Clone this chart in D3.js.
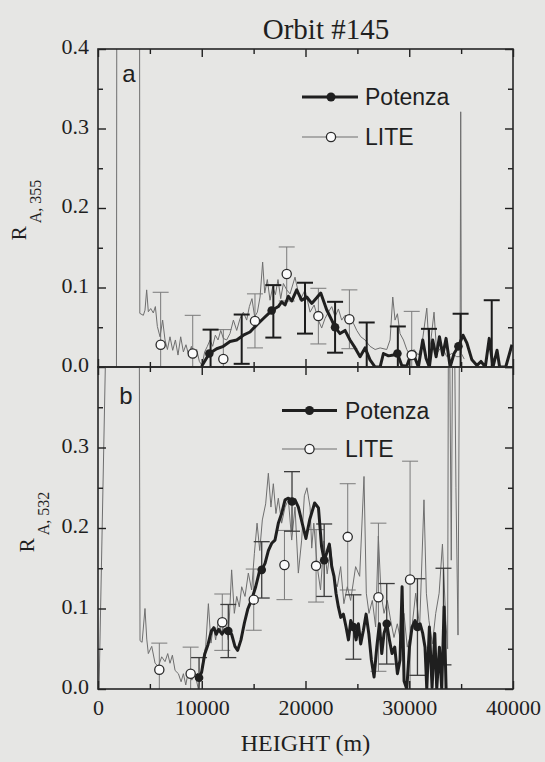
<!DOCTYPE html>
<html><head><meta charset="utf-8">
<script src="https://cdn.jsdelivr.net/npm/d3@7"></script>
<style>html,body{margin:0;padding:0;background:#e6e6e4;} svg{display:block}</style>
</head><body><svg id="chart" width="545" height="762"></svg>
<script>
// ---------------- DATA ----------------
const titleText = "Orbit #145";
const xLabelText = "HEIGHT (m)";
const heightTicks = [0, 10000, 20000, 30000, 40000];
const heightMinorTicks = [5000, 15000, 25000, 35000];
const ratioTicksA = [0, 0.1, 0.2, 0.3, 0.4];
const ratioTicksB = [0, 0.1, 0.2, 0.3];
const ratioMinorTicks = [0.05, 0.15, 0.25, 0.35];
const legendLabels = ["Potenza", "LITE"];

// Panel a : 355 nm  [height (m), R_A]
const lite355Profile = [[1780,0.0],[1820,0.6],[4000,0.6],[4030,0.0675],[4370,0.065],[4530,0.0715],[4690,0.097],[4850,0.0695],[5080,0.0735],[5330,0.068],[5530,0.076],[5720,0.051],[5980,0.038],[6230,0.059],[6460,0.034],[6690,0.022],[6940,0.038],[7200,0.021],[7460,0.034],[7710,0.015],[7970,0.038],[8230,0.019],[8480,0.028],[8740,0.015],[9000,0.026],[9250,0.011],[9510,0.022],[9770,0.007],[10030,0.002],[10280,0.019],[10540,0.026],[10800,0.034],[11050,0.026],[11310,0.040],[11570,0.034],[11830,0.046],[12080,0.036],[12400,0.034],[12720,0.042],[13050,0.059],[13370,0.046],[13690,0.061],[14010,0.069],[14330,0.059],[14590,0.076],[14840,0.086],[15100,0.063],[15360,0.069],[15620,0.088],[15870,0.132],[16070,0.093],[16320,0.110],[16580,0.084],[16840,0.101],[17100,0.091],[17350,0.110],[17610,0.086],[17870,0.105],[18190,0.097],[18510,0.092],[18990,0.113],[19470,0.084],[19960,0.097],[20440,0.069],[20830,0.078],[21240,0.059],[21560,0.049],[21880,0.061],[22200,0.069],[22530,0.076],[22850,0.063],[23170,0.073],[23490,0.059],[23810,0.065],[24230,0.063],[24620,0.055],[24940,0.046],[25330,0.038],[25740,0.034],[26220,0.026],[26710,0.022],[27190,0.024],[27830,0.022],[28150,0.034],[28410,0.088],[28630,0.059],[28860,0.067],[29110,0.042],[29440,0.034],[29760,0.022],[30080,0.015],[30460,0.022],[30880,0.015],[31200,0.026],[31690,0.074],[31940,0.017],[32390,0.069],[32650,0.017],[33130,0.026],[33620,0.013],[34100,0.017],[34570,0.013],[34900,0.013],[34960,0.321],[35020,0.017],[35300,0.010]];
const potenza355Profile = [[9990,0.001],[10730,0.017],[11440,0.023],[12080,0.026],[12720,0.032],[13370,0.034],[14010,0.040],[14650,0.044],[15300,0.053],[15940,0.061],[16740,0.071],[17380,0.076],[17700,0.082],[18030,0.078],[18350,0.089],[18670,0.083],[19150,0.097],[19640,0.084],[20120,0.088],[20600,0.080],[21080,0.087],[21470,0.093],[22040,0.072],[22530,0.059],[22850,0.050],[23330,0.042],[23810,0.046],[24290,0.034],[24780,0.024],[25260,0.013],[25740,0.024],[26220,0.009],[26710,0.0],[27190,0.0],[27510,0.017],[28000,0.014],[28480,0.015],[28860,0.017],[29280,0.002],[29760,0.001],[30140,0.015],[30560,0.011],[30880,0.0],[31300,0.034],[31620,0.011],[31940,0.0],[32260,0.034],[32590,0.013],[32910,0.038],[33230,0.015],[33550,0.036],[33940,0.0],[34320,0.017],[34740,0.026],[35180,0.040],[35560,0.030],[36040,0.009],[36530,0.002],[36910,0.007],[37330,0.0],[37710,0.036],[38070,0.0],[38460,0.021],[38710,0.0],[39300,0.0],[39900,0.028]];
const potenza355Points = [[10730,0.017],[16740,0.071],[22850,0.050],[28860,0.017],[34740,0.026]];
// [height, value, error]
const potenza355Errors = [[10850,0.017,0.030],[13850,0.035,0.031],[16900,0.070,0.033],[19950,0.074,0.032],[22850,0.050,0.032],[25900,0.015,0.041],[28900,0.017,0.034],[31900,0.017,0.031],[34950,0.026,0.041],[37950,0.020,0.064]];
const lite355Points = [[6040,0.028,0.066],[9130,0.017,0.048],[12080,0.010,0.037],[15130,0.058,0.034],[18190,0.117,0.034],[21240,0.064,0.035],[24230,0.060,0.037],[30240,0.015,0.055]];

// Panel b : 532 nm
const lite532Profile = [[100,0.0],[780,0.45],[800,null],[3950,0.6],[4050,0.060],[4250,0.058],[4530,0.100],[4700,0.062],[4850,0.044],[5180,0.053],[5500,0.032],[5820,0.028],[6140,0.040],[6460,0.034],[6720,0.044],[6940,0.032],[7170,0.042],[7430,0.023],[7750,0.019],[8010,0.009],[8230,0.019],[8460,0.005],[8720,0.023],[9040,0.011],[9350,0.019],[9670,0.0],[9930,0.019],[10150,0.040],[10380,0.053],[10640,0.106],[10890,0.057],[11120,0.078],[11340,0.061],[11600,0.085],[11920,0.069],[12240,0.085],[12560,0.061],[12880,0.148],[13140,0.094],[13370,0.115],[13620,0.102],[13850,0.127],[14170,0.115],[14490,0.144],[14810,0.123],[15070,0.168],[15330,0.206],[15590,0.172],[15840,0.210],[16160,0.230],[16420,0.268],[16670,0.226],[16900,0.255],[17150,0.218],[17380,0.237],[17700,0.206],[18030,0.226],[18350,0.235],[18670,0.185],[18990,0.226],[19310,0.144],[19630,0.185],[19890,0.240],[20140,0.250],[20440,0.226],[20600,0.175],[20800,0.206],[21130,0.152],[21450,0.123],[21770,0.184],[22090,0.143],[22420,0.176],[22740,0.135],[23060,0.127],[23390,0.152],[23700,0.106],[24030,0.127],[24350,0.110],[24830,0.152],[25220,0.140],[25640,0.264],[25860,0.119],[26120,0.094],[26440,0.110],[26760,0.077],[27020,0.190],[27280,0.119],[27570,0.094],[27890,0.110],[28210,0.085],[28530,0.064],[28850,0.081],[29170,0.060],[29490,0.094],[29810,0.052],[30230,0.073],[30620,0.119],[31000,0.077],[31420,0.235],[31650,0.119],[31900,0.085],[32230,0.056],[32550,0.094],[32880,0.119],[33200,0.180],[33520,0.085],[33700,0.050],[33800,0.6],[34050,0.160],[34250,0.6],[34500,0.250],[34700,0.067],[34900,0.6]];
const potenza532Profile = [[9500,0.019],[9740,0.014],[9990,0.021],[10280,0.043],[10600,0.055],[10920,0.072],[11180,0.076],[11400,0.068],[11630,0.074],[11950,0.068],[12250,0.074],[12560,0.072],[12880,0.068],[13200,0.053],[13460,0.048],[13780,0.061],[14110,0.082],[14430,0.099],[14810,0.111],[15200,0.127],[15520,0.144],[15780,0.148],[16100,0.156],[16420,0.172],[16740,0.181],[17060,0.185],[17380,0.206],[17700,0.218],[18030,0.235],[18350,0.237],[18700,0.233],[18990,0.235],[19310,0.226],[19700,0.205],[20040,0.187],[20400,0.210],[20880,0.231],[21250,0.225],[21550,0.177],[21800,0.160],[22040,0.169],[22300,0.180],[22530,0.152],[22750,0.140],[22940,0.119],[23170,0.102],[23400,0.089],[23650,0.093],[23910,0.077],[24140,0.061],[24360,0.085],[24620,0.077],[24880,0.061],[25100,0.081],[25320,0.056],[25580,0.073],[25840,0.093],[26100,0.069],[26350,0.036],[26610,0.015],[26870,0.052],[27120,0.081],[27350,0.044],[27570,0.069],[27830,0.081],[28090,0.061],[28340,0.044],[28600,0.052],[28860,0.019],[29110,0.036],[29310,0.127],[29500,0.010],[29760,0.0],[30020,0.052],[30270,0.077],[30560,0.085],[30790,0.077],[31050,0.081],[31300,0.069],[31520,0.052],[31690,0.0],[31940,0.077],[32200,0.002],[32460,0.069],[32650,0.0],[32910,0.052],[33130,0.0],[33360,0.102],[33550,0.0]];
const potenza532Points = [[9740,0.014],[12560,0.072],[15780,0.148],[18700,0.233],[21800,0.160],[24620,0.077],[27830,0.081],[30790,0.077]];
const potenza532Errors = [[9740,0.014,0.025],[12560,0.072,0.033],[15780,0.148,0.035],[18700,0.233,0.037],[21800,0.160,0.045],[24620,0.077,0.040],[27830,0.081,0.050],[30790,0.077,0.060],[33300,0.090,0.060]];
const lite532Points = [[5910,0.024,0.033],[8930,0.019,0.033],[11980,0.083,0.035],[15010,0.111,0.038],[17970,0.154,0.043],[21020,0.153,0.045],[24070,0.189,0.066],[27030,0.114,0.092],[30080,0.136,0.147]];

// ---------------- DRAWING ----------------
const svg = d3.select('#chart');
const BG = '#e6e6e4', INK = '#1f1f1f', GRAY = '#6f6f6f';
const SERIF = '"Liberation Serif", "Times New Roman", serif';
const SANS = '"Liberation Sans", Arial, sans-serif';
svg.append('rect').attr('width', 545).attr('height', 762).attr('fill', BG);
const defs = svg.append('defs');

const x = d3.scaleLinear().domain([0, 40000]).range([98, 513]);

const panels = [
  { key: 'a', y: d3.scaleLinear().domain([0, 0.4]).range([367, 49]), labels: ratioTicksA,
    lite: lite355Profile, pot: potenza355Profile, potPts: potenza355Points, potErr: potenza355Errors, litePts: lite355Points,
    potErrStyle: { stroke: '#1c1c1c', width: 2 },
    letter: { t: 'a', x: 129, y: 82 }, sub: 'A, 355', ylab: { x: 26, y: 210 },
    legend: { x1: 302, x2: 358, m: 331, tx: 365, y1: 97, y2: 137 } },
  { key: 'b', y: d3.scaleLinear().domain([0, 0.4]).range([689, 367]), labels: ratioTicksB,
    lite: lite532Profile, pot: potenza532Profile, potPts: potenza532Points, potErr: potenza532Errors, litePts: lite532Points,
    potErrStyle: { stroke: '#3c3c3c', width: 1.3 },
    letter: { t: 'b', x: 126, y: 404 }, sub: 'A, 532', ylab: { x: 34, y: 522 },
    legend: { x1: 282, x2: 337, m: 309.5, tx: 345, y1: 410.5, y2: 449 } }
];

function errorBars(sel, rows, y, stroke, width) {
  const g = sel.append('g').attr('stroke', stroke).attr('stroke-width', width).attr('fill', 'none');
  const bars = g.selectAll('g').data(rows).join('g');
  bars.append('line').attr('x1', d => x(d[0])).attr('x2', d => x(d[0]))
    .attr('y1', d => y(d[1] - d[2])).attr('y2', d => y(d[1] + d[2]));
  bars.append('line').attr('x1', d => x(d[0]) - 8).attr('x2', d => x(d[0]) + 8)
    .attr('y1', d => y(d[1] + d[2])).attr('y2', d => y(d[1] + d[2]));
  bars.append('line').attr('x1', d => x(d[0]) - 8).attr('x2', d => x(d[0]) + 8)
    .attr('y1', d => y(d[1] - d[2])).attr('y2', d => y(d[1] - d[2]));
}

function styleAxis(g, withText) {
  g.attr('font-family', SERIF);
  g.select('.domain').remove();
  g.selectAll('.tick line').attr('stroke', INK).attr('stroke-width', 1.4);
  if (withText) {
    g.selectAll('.tick text').attr('font-family', SERIF).attr('font-size', 22).attr('fill', INK);
  } else {
    g.selectAll('.tick text').remove();
  }
}

panels.forEach(p => {
  const y = p.y;
  const top = y(0.4), bot = y(0);
  defs.append('clipPath').attr('id', 'clip-' + p.key)
    .append('rect').attr('x', 98).attr('y', top).attr('width', 415).attr('height', bot - top);

  const plot = svg.append('g').attr('clip-path', `url(#clip-${p.key})`);

  // LITE error bars
  errorBars(plot, p.litePts, y, '#7a7a7a', 1);

  // LITE high-resolution profile
  const line = d3.line().defined(d => d[1] != null).x(d => x(d[0])).y(d => y(d[1]));
  plot.append('path').datum(p.lite).attr('d', line)
    .attr('fill', 'none').attr('stroke', GRAY).attr('stroke-width', 1).attr('stroke-linejoin', 'round');

  // Potenza error bars
  errorBars(plot, p.potErr, y, p.potErrStyle.stroke, p.potErrStyle.width);

  // Potenza profile
  plot.append('path').datum(p.pot).attr('d', line)
    .attr('fill', 'none').attr('stroke', INK).attr('stroke-width', 3).attr('stroke-linejoin', 'round');

  // Potenza markers
  plot.selectAll('circle.pot').data(p.potPts).join('circle').attr('class', 'pot')
    .attr('cx', d => x(d[0])).attr('cy', d => y(d[1])).attr('r', 4.3).attr('fill', INK);

  // LITE averaged points
  plot.selectAll('circle.lite').data(p.litePts).join('circle').attr('class', 'lite')
    .attr('cx', d => x(d[0])).attr('cy', d => y(d[1])).attr('r', 4.6)
    .attr('fill', '#fbfbfb').attr('stroke', '#2a2a2a').attr('stroke-width', 1.3);

  // Axes (inward ticks)
  const gl = svg.append('g').attr('transform', 'translate(98,0)')
    .call(d3.axisLeft(y).tickValues(p.labels).tickSize(-8).tickPadding(9).tickFormat(d3.format('.1f')));
  styleAxis(gl, true);
  gl.selectAll('.tick text').attr('dy', '0.22em');
  styleAxis(svg.append('g').attr('transform', 'translate(98,0)')
    .call(d3.axisLeft(y).tickValues(ratioMinorTicks).tickSize(-5)), false);
  styleAxis(svg.append('g').attr('transform', 'translate(513,0)')
    .call(d3.axisRight(y).tickValues(ratioTicksA).tickSize(-8)), false);
  styleAxis(svg.append('g').attr('transform', 'translate(513,0)')
    .call(d3.axisRight(y).tickValues(ratioMinorTicks).tickSize(-5)), false);

  styleAxis(svg.append('g').attr('transform', `translate(0,${top})`)
    .call(d3.axisTop(x).tickValues(heightTicks).tickSize(-8)), false);
  styleAxis(svg.append('g').attr('transform', `translate(0,${top})`)
    .call(d3.axisTop(x).tickValues(heightMinorTicks).tickSize(-5)), false);
  const gb = svg.append('g').attr('transform', `translate(0,${bot})`)
    .call(d3.axisBottom(x).tickValues(heightTicks).tickSize(-8).tickPadding(10).tickFormat(d3.format('d')));
  styleAxis(gb, p.key === 'b');
  styleAxis(svg.append('g').attr('transform', `translate(0,${bot})`)
    .call(d3.axisBottom(x).tickValues(heightMinorTicks).tickSize(-5)), false);

  // Frame
  svg.append('rect').attr('x', 98).attr('y', top).attr('width', 415).attr('height', bot - top)
    .attr('fill', 'none').attr('stroke', '#262626').attr('stroke-width', 1.6);

  // Panel letter
  svg.append('text').attr('x', p.letter.x).attr('y', p.letter.y).attr('text-anchor', 'middle')
    .attr('font-family', SANS).attr('font-size', 24).attr('fill', INK)
    .text(p.letter.t);

  // Y label
  const yl = svg.append('text').attr('transform', `translate(${p.ylab.x},${p.ylab.y}) rotate(-90)`)
    .attr('text-anchor', 'middle').attr('font-family', SERIF).attr('fill', INK);
  yl.append('tspan').attr('font-size', 21).text('R');
  yl.append('tspan').attr('font-size', 16).attr('dy', 15).attr('dx', 3).text(p.sub);

  // Legend
  const L = p.legend;
  const lg = svg.append('g');
  lg.append('line').attr('x1', L.x1).attr('x2', L.x2).attr('y1', L.y1).attr('y2', L.y1)
    .attr('stroke', INK).attr('stroke-width', 3);
  lg.append('circle').attr('cx', L.m).attr('cy', L.y1).attr('r', 4.5).attr('fill', INK);
  lg.append('line').attr('x1', L.x1).attr('x2', L.x2).attr('y1', L.y2).attr('y2', L.y2)
    .attr('stroke', GRAY).attr('stroke-width', 1);
  lg.append('circle').attr('cx', L.m).attr('cy', L.y2).attr('r', 4.6)
    .attr('fill', '#fbfbfb').attr('stroke', '#2a2a2a').attr('stroke-width', 1.3);
  lg.selectAll('text').data(legendLabels).join('text')
    .attr('x', L.tx).attr('y', (d, i) => (i === 0 ? L.y1 : L.y2) + 8)
    .attr('font-family', SANS).attr('font-size', 23).attr('fill', INK)
    .text(d => d);
});

// Title and x label
svg.append('text').attr('x', 326).attr('y', 39).attr('text-anchor', 'middle')
  .attr('font-family', SERIF).attr('font-size', 29).attr('fill', INK)
  .text(titleText);
svg.append('text').attr('x', 305.5).attr('y', 751).attr('text-anchor', 'middle')
  .attr('font-family', SERIF).attr('font-size', 24).attr('fill', INK)
  .text(xLabelText);
</script>
</body></html>
